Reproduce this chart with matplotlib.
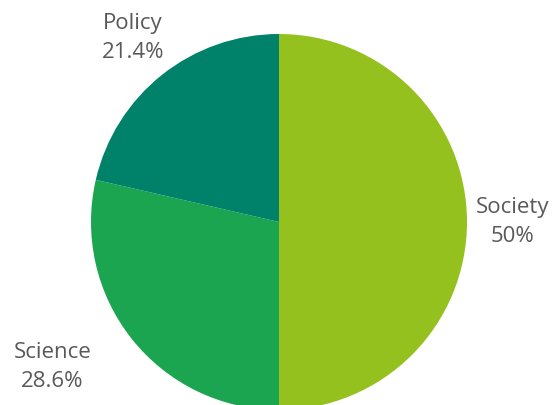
import numpy as np
import matplotlib
matplotlib.use("Agg")
import matplotlib.pyplot as plt

categories = ["Society", "Science", "Policy"]
values = [50.0, 28.6, 21.4]
pct_labels = ["50%", "28.6%", "21.4%"]
colors = ["#95c11f", "#1ba550", "#008169"]

W, H = 554, 405
cx, cy, R = 279, 222, 188

fig = plt.figure(figsize=(W / 100, H / 100), dpi=100)
ax = fig.add_axes([0, 0, 1, 1])
wedges, _ = ax.pie(values, colors=colors, startangle=90, counterclock=False,
                   radius=1, center=(0, 0), wedgeprops=dict(linewidth=0))
ax.set_xlim(-cx / R, (W - cx) / R)
ax.set_ylim(-(H - cy) / R, cy / R)
ax.set_aspect("auto")
ax.axis("off")

dists = [1.24, 1.43, 1.25]
angle_adj = [0, -6.0, 0]
for w, cat, pl, d, adj in zip(wedges, categories, pct_labels, dists, angle_adj):
    ang = np.deg2rad((w.theta1 + w.theta2) / 2 + adj)
    x, y = d * np.cos(ang), d * np.sin(ang)
    ax.text(x, y, f"{cat}\n{pl}", ha="center", va="center", fontsize=16,
            color="#595959", family="Open Sans", linespacing=1.5)

fig.savefig("out.png", dpi=100)
